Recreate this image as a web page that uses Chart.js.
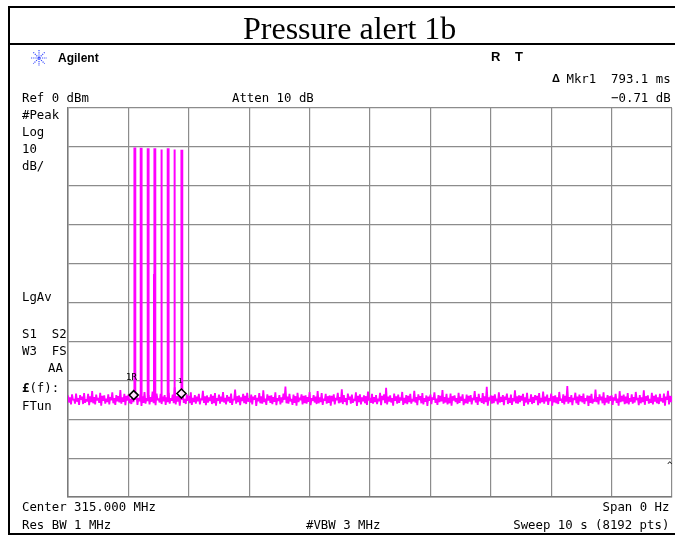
<!DOCTYPE html>
<html>
<head>
<meta charset="utf-8">
<script src="https://cdn.jsdelivr.net/npm/chart.js@4/dist/chart.umd.min.js"></script>
<style>
  html, body { margin:0; padding:0; background:#fff; }
  #wrap { position:relative; width:675px; height:536px; overflow:hidden; background:#fff; }
  #c { position:absolute; left:0; top:0; }
  .box { position:absolute; border:2px solid #000; box-sizing:border-box; }
  .hl { position:absolute; background:#000; }
  .t { position:absolute; white-space:pre; color:#000; }
  .m { font-family:"DejaVu Sans Mono", "Liberation Mono", monospace; font-size:13px; line-height:13px; transform:scaleX(0.95); transform-origin:left center; }
  .r { transform-origin:right center; text-align:right; }
  .title { font-family:"Liberation Serif", "Times New Roman", serif; font-size:32px; line-height:32px; }
  .b { font-family:"Liberation Sans", Arial, sans-serif; font-weight:bold; font-size:12px; line-height:12px; }
</style>
</head>
<body>
<div id="wrap">
  <canvas id="c" width="675" height="536"></canvas>
  <div class="box" style="left:8px;top:6px;width:672px;height:529px;"></div>
  <div class="hl" style="left:8px;top:43px;width:672px;height:2px;"></div>

  <div class="t title" style="left:243px;top:12px;">Pressure alert 1b</div>

  <svg style="position:absolute;left:30px;top:49px;" width="18" height="18" viewBox="0 0 18 18">
    <g stroke="#3b4dff" stroke-width="1.2" stroke-dasharray="1.2 1">
      <line x1="9" y1="1" x2="9" y2="17"/>
      <line x1="1" y1="9" x2="17" y2="9"/>
      <line x1="3.3" y1="3.3" x2="14.7" y2="14.7"/>
      <line x1="14.7" y1="3.3" x2="3.3" y2="14.7"/>
    </g>
  </svg>
  <div class="t b" style="left:58px;top:52px;">Agilent</div>
  <div class="t b" style="left:491px;top:51px;font-size:13px;">R</div>
  <div class="t b" style="left:515px;top:51px;font-size:13px;">T</div>

  <div class="t" style="left:552px;top:73px;font-family:'Liberation Sans';font-weight:bold;font-size:11px;line-height:11px;">Δ</div>
  <div class="t m r" style="right:4px;top:72px;">Mkr1  793.1 ms</div>
  <div class="t m" style="left:22px;top:91px;">Ref 0 dBm</div>
  <div class="t m" style="left:232px;top:91px;">Atten 10 dB</div>
  <div class="t m r" style="right:4px;top:91px;">−0.71 dB</div>

  <div class="t m" style="left:22px;top:108px;">#Peak</div>
  <div class="t m" style="left:22px;top:125px;">Log</div>
  <div class="t m" style="left:22px;top:142px;">10</div>
  <div class="t m" style="left:22px;top:159px;">dB/</div>
  <div class="t m" style="left:22px;top:290px;">LgAv</div>
  <div class="t m" style="left:22px;top:327px;">S1  S2</div>
  <div class="t m" style="left:22px;top:344px;">W3  FS</div>
  <div class="t m" style="left:48px;top:361px;">AA</div>
  <div class="t m" style="left:22px;top:381px;"><b>£</b>(f):</div>
  <div class="t m" style="left:22px;top:399px;">FTun</div>

  <div class="t m" style="left:22px;top:500px;">Center 315.000 MHz</div>
  <div class="t m r" style="right:6px;top:500px;">Span 0 Hz</div>
  <div class="t m" style="left:22px;top:518px;">Res BW 1 MHz</div>
  <div class="t m" style="left:306px;top:518px;">#VBW 3 MHz</div>
  <div class="t m r" style="right:6px;top:518px;">Sweep 10 s (8192 pts)</div>

  <div class="t" style="left:126px;top:373px;font-family:'DejaVu Sans Mono';font-size:9px;line-height:9px;">1R</div>
  <div class="t" style="left:178px;top:378px;font-family:'DejaVu Sans Mono';font-size:7px;line-height:7px;">1</div>
  <div class="t" style="left:667px;top:461px;font-family:'DejaVu Sans Mono';font-size:9px;line-height:9px;">^</div>
</div>

<script>
// Sweep: 0 to 10 s, reference 0 dBm, 10 dB/div
const sweepStart = 0;
const sweepEnd = 10;
const refLevel = 0;
const bottomLevel = -100;

// Noise floor trace (dBm), sampled evenly across the sweep
const noiseDbm = [
-73.9,-75.7,-74.4,-76.2,-73.6,-75.1,-74.8,-76.0,-73.4,-75.5,
-74.6,-76.3,-73.8,-75.0,-74.2,-76.1,-73.3,-75.8,-74.9,-75.4,
-73.5,-76.4,-74.1,-75.6,-72.8,-75.9,-74.3,-76.2,-73.7,-75.2,
-74.5,-75.8,-73.2,-76.5,-74.0,-75.3,-73.9,-76.0,-74.7,-75.6,
-73.6,-76.2,-74.3,-75.1,-73.1,-75.9,-74.6,-76.3,-73.8,-75.4,
-74.1,-75.7,-72.5,-76.0,-74.4,-75.5,-73.5,-76.4,-74.0,-75.2,
-73.7,-75.9,-74.8,-76.1,-73.3,-75.6,-74.2,-75.0,-73.9,-76.3,
-74.5,-75.4,-73.6,-76.6,-74.1,-75.8,-73.0,-76.0,-74.6,-75.3,
-73.8,-76.2,-74.3,-75.5,-72.9,-75.9,-74.0,-76.4,-73.4,-75.1,
-74.7,-75.7,-73.5,-76.1,-74.2,-75.4,-73.8,-76.3,-74.4,-75.6,
-73.2,-76.0,-74.6,-75.2,-73.7,-75.9,-71.8,-76.2,-74.1,-75.5,
-73.9,-76.5,-74.3,-75.0,-73.4,-75.8,-74.8,-76.1,-73.6,-75.3,
-74.0,-75.9,-73.1,-76.3,-74.5,-75.6,-73.8,-76.0,-74.2,-75.4,
-73.5,-76.2,-74.7,-75.1,-72.7,-75.8,-74.1,-76.4,-73.9,-75.7,
-74.4,-75.3,-73.6,-76.1,-74.0,-75.9,-73.3,-76.5,-74.6,-75.2,
-73.7,-76.0,-74.2,-75.5,-73.0,-75.7,-74.5,-76.2,-73.8,-75.4,
-74.3,-75.8,-73.4,-76.3,-74.8,-75.1,-72.4,-76.0,-74.1,-75.6,
-73.9,-76.4,-74.4,-75.3,-73.5,-75.9,-74.0,-76.1,-73.2,-75.5,
-74.6,-75.7,-73.7,-76.2,-74.2,-75.0,-73.8,-76.6,-74.5,-75.4,
-73.3,-75.9,-74.1,-76.0,-72.6,-75.6,-74.7,-76.3,-73.6,-75.2,
-74.0,-75.8,-73.9,-76.1,-74.3,-75.5,-73.1,-76.4,-74.6,-75.3,
-73.8,-76.2,-74.4,-75.7,-73.4,-75.0,-71.6,-75.9,-74.2,-76.0,
-73.5,-75.4,-74.8,-76.3,-73.7,-75.8,-74.1,-76.5,-73.2,-75.6,
-74.5,-75.1,-73.6,-76.2,-74.0,-75.9,-73.9,-76.0,-74.3,-75.5,
-73.0,-76.4,-74.6,-75.3,-73.8,-75.7,-74.2,-76.1,-72.8,-75.9,
-74.4,-75.6,-73.3,-76.3,-74.7,-75.2,-73.5,-76.0,-74.1,-75.8,
-73.9,-76.5,-74.0,-75.4,-73.6,-76.2,-74.5,-75.1,-73.2,-75.9,
-74.3,-75.7,-72.3,-76.1,-73.8,-75.5,-74.6,-76.4,-73.4,-75.0,
-74.2,-76.0,-73.7,-75.8,-74.8,-75.3,-73.1,-76.6,-74.0,-75.6,
-73.6,-76.2,-74.4,-75.4,-73.9,-75.9,-74.1,-76.3,-72.9,-75.2,
-74.5,-75.8,-73.5,-76.0,-74.3,-75.6,-73.8,-76.1,-74.7,-75.4,
-73.2,-76.4,-74.0,-75.1,-73.6,-75.9,-71.9,-76.2,-74.2,-75.5,
-73.9,-75.7,-74.6,-76.5,-73.4,-75.3,-74.1,-76.0,-73.7,-75.8,
-74.4,-75.2,-73.0,-76.3,-74.5,-75.9,-73.8,-76.1,-74.0,-75.6,
-73.5,-76.0,-74.8,-75.4,-72.7,-75.7,-74.3,-76.4,-73.6,-75.1,
-74.1,-75.9,-73.3,-76.2,-74.6,-75.5,-73.9,-76.6,-74.2,-75.3,
-73.7,-76.1,-74.4,-75.0,-73.1,-75.8,-74.7,-76.3,-73.8,-75.6,
-74.0,-75.4,-72.5,-76.0,-74.3,-75.7,-73.5,-76.2,-74.5,-75.9,
-73.4,-76.5,-74.1,-75.2,-73.9,-75.6,-74.6,-76.1,-73.2,-75.8,
-74.2,-75.3,-73.6,-76.4,-74.8,-75.9,-73.7,-76.0,-74.0,-75.5,
-73.8,-76.2,-74.5,-75.1,-72.8,-75.7,-74.3,-76.3,-73.5,-75.4,
-74.6,-75.8,-73.3,-76.1,-74.1,-75.6,-71.7,-76.5,-74.4,-75.2,
-73.9,-76.0,-74.0,-75.9,-73.6,-75.3,-74.7,-76.2,-73.1,-75.7,
-74.3,-75.5,-73.8,-76.4,-74.2,-75.0,-73.4,-76.1,-74.5,-75.8,
-73.7,-76.3,-74.6,-75.4,-72.6,-75.9,-74.1,-76.0,-73.9,-75.6,
-74.0,-75.2,-73.5,-76.6,-74.4,-75.7,-73.2,-76.2,-74.8,-75.5,
-73.6,-76.1,-74.3,-75.8,-73.8,-75.1,-74.0,-76.4,-73.3,-75.9,
-74.5,-75.6,-72.9,-76.0,-74.2,-75.4,-73.7,-76.3,-74.6,-75.3,
-73.4,-76.5,-74.1,-75.7,-73.9,-75.9,-74.4,-76.1,-73.0,-75.2,
-74.7,-75.8,-73.6,-76.2,-74.0,-75.5,-71.5,-76.0,-74.3,-75.6,
-73.8,-76.4,-74.5,-75.0,-73.2,-75.9,-74.2,-76.3,-73.7,-75.4,
-74.1,-75.7,-73.4,-76.1,-74.6,-75.3,-73.9,-76.6,-74.0,-75.8,
-73.5,-76.0,-74.8,-75.5,-72.4,-75.6,-74.3,-76.2,-73.6,-75.1,
-74.2,-75.9,-73.1,-76.4,-74.5,-75.7,-73.8,-76.0,-74.1,-75.3,
-73.9,-76.3,-74.4,-75.2,-73.5,-75.8,-74.7,-76.5,-72.8,-75.6,
-74.0,-75.4,-73.7,-76.1,-74.2,-75.9,-73.3,-76.2,-74.6,-75.5,
-73.6,-76.0,-74.3,-75.7,-73.0,-75.1,-74.5,-76.4,-73.8,-75.9,
-74.4,-75.6,-72.6,-76.3,-74.1,-75.3,-73.9,-76.0,-74.8,-75.8,
-73.2,-76.2,-74.0,-75.5,-73.7,-75.9,-74.4,-76.1,-73.5,-75.4,
-74.6,-75.7,-73.4,-76.5,-74.2,-75.0,-72.7,-76.2,-74.0,-75.6,
-74.1
];

// Pressure-alert RF bursts (time in s, peak level in dBm)
const pulseTimes = [1.100, 1.204, 1.320, 1.431, 1.540, 1.651, 1.756, 1.878];
const pulseTops  = [-10.4, -10.5, -10.6, -10.6, -10.7, -10.6, -10.7, -11.0];
const pulseFloor = -75.0;
const pulseWidth = 0.014;

// Short partial burst
const glitchTimes = [1.408];
const glitchTops  = [-42.7];

// Markers: 1R (reference) and 1 (delta)
const markerTimes  = [1.088, 1.878];
const markerLevels = [-73.8, -73.4];

const noisePts = noiseDbm.map((v, i) => ({ x: sweepStart + i * (sweepEnd - sweepStart) / (noiseDbm.length - 1), y: v }));

function burstPoints(times, tops) {
  const pts = [];
  times.forEach((t, i) => {
    pts.push({ x: t, y: pulseFloor });
    pts.push({ x: t, y: tops[i] });
    pts.push({ x: t + pulseWidth, y: tops[i] });
    pts.push({ x: t + pulseWidth, y: pulseFloor });
    pts.push({ x: t + pulseWidth, y: null });
  });
  return pts;
}

const markerPts = markerTimes.map((t, i) => ({ x: t, y: markerLevels[i] }));

const gridColor = '#8c8c8c';

new Chart(document.getElementById('c'), {
  type: 'line',
  data: {
    datasets: [
      {
        label: 'Markers', data: markerPts, showLine: false, order: 0,
        pointStyle: 'rectRot', pointRadius: 4.5, pointBorderWidth: 1.6,
        pointBorderColor: '#000', pointBackgroundColor: 'rgba(255,255,255,0.85)'
      },
      {
        label: 'Bursts', data: burstPoints(pulseTimes, pulseTops), order: 1,
        borderColor: '#ff00ff', borderWidth: 2.0, pointRadius: 0, spanGaps: false, tension: 0
      },
      {
        label: 'Partial', data: burstPoints(glitchTimes, glitchTops), order: 1,
        borderColor: '#ff00ff', borderWidth: 1.2, pointRadius: 0, spanGaps: false, tension: 0
      },
      {
        label: 'Trace', data: noisePts, order: 2,
        borderColor: '#ff00ff', borderWidth: 1.8, pointRadius: 0, tension: 0, borderJoinStyle: 'bevel'
      }
    ]
  },
  options: {
    responsive: false,
    animation: false,
    events: [],
    layout: { autoPadding: false, padding: { left: 68, top: 108, right: 3, bottom: 39 } },
    plugins: { legend: { display: false }, tooltip: { enabled: false } },
    scales: {
      x: {
        type: 'linear', min: sweepStart, max: sweepEnd,
        ticks: { display: false, stepSize: 1, callback: () => '' },
        grid: { color: gridColor, lineWidth: 1.2, drawTicks: false },
        border: { display: true, color: '#7a7a7a', width: 1.5 }
      },
      y: {
        type: 'linear', min: bottomLevel, max: refLevel,
        ticks: { display: false, stepSize: 10, callback: () => '' },
        grid: { color: gridColor, lineWidth: 1.2, drawTicks: false },
        border: { display: true, color: '#7a7a7a', width: 1.5 }
      }
    }
  }
});
</script>
</body>
</html>
